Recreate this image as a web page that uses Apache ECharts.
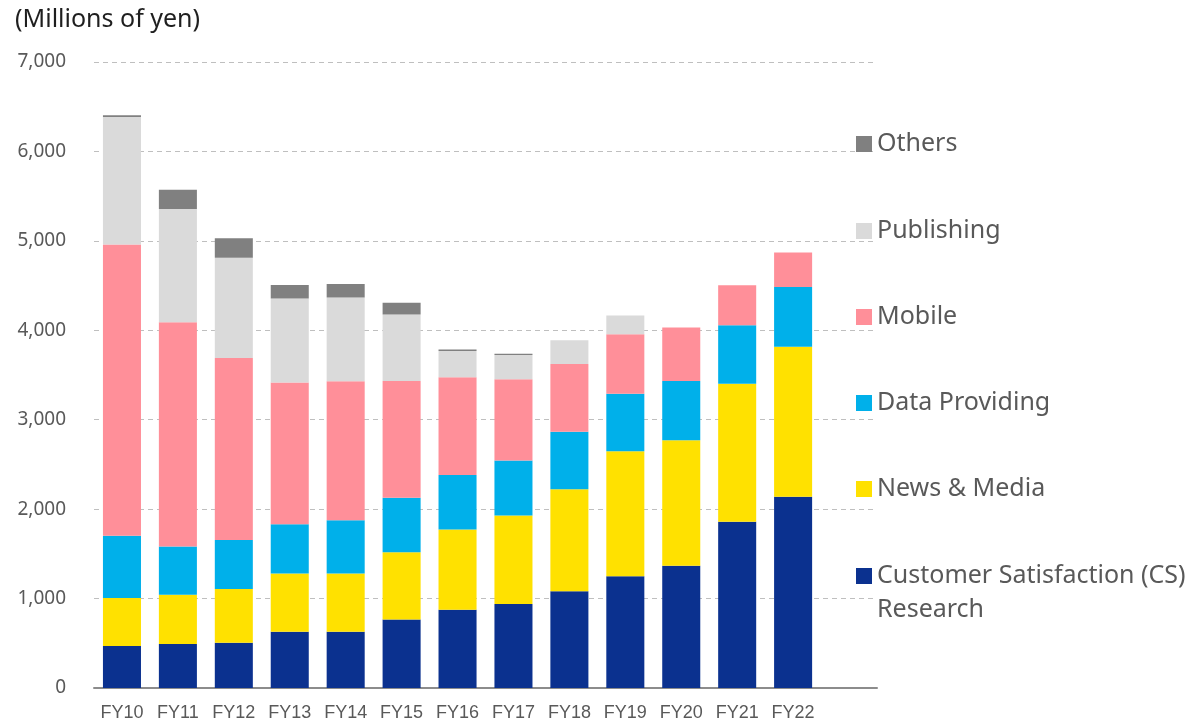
<!DOCTYPE html>
<html>
<head>
<meta charset="utf-8">
<script src="https://cdn.jsdelivr.net/npm/echarts@6/dist/echarts.min.js"></script>
<style>
html,body{margin:0;padding:0;background:#fff;}
#chart{width:1188px;height:725px;}
</style>
</head>
<body>
<div id="chart"></div>
<script>
const categories = ['FY10','FY11','FY12','FY13','FY14','FY15','FY16','FY17','FY18','FY19','FY20','FY21','FY22'];
const csResearch  = [471, 492, 505, 629, 630, 766, 874, 938, 1083, 1250, 1366, 1858, 2138];
const newsMedia   = [535, 552, 603, 650, 650, 751, 897, 990, 1140, 1396, 1403, 1545, 1679];
const dataProv    = [697, 539, 548, 552, 597, 609, 612, 616, 642, 645, 664, 653, 668];
const mobile      = [3256, 2508, 2033, 1584, 1553, 1307, 1091, 908, 758, 664, 597, 448, 384];
const publishing  = [1425, 1266, 1121, 941, 938, 743, 295, 272, 266, 209, 0, 0, 0];
const others      = [20, 214, 218, 150, 149, 131, 15, 15, 0, 0, 0, 0, 0];
const yTicks = [0, 1000, 2000, 3000, 4000, 5000, 6000, 7000];

const FONT = 'Noto Sans';
const seriesDefs = [
  {name: 'Customer Satisfaction (CS) Research', data: csResearch, color: '#0B318F'},
  {name: 'News & Media', data: newsMedia, color: '#FFE100'},
  {name: 'Data Providing', data: dataProv, color: '#00B0EA'},
  {name: 'Mobile', data: mobile, color: '#FF8F99'},
  {name: 'Publishing', data: publishing, color: '#DADADA'},
  {name: 'Others', data: others, color: '#808080'}
];

const legendCenters = {
  'Others': 142, 'Publishing': 229, 'Mobile': 315, 'Data Providing': 401, 'News & Media': 487,
  'Customer Satisfaction (CS) Research': 574
};
const LH = 34;
const legends = seriesDefs.map(s => {
  const multi = s.name.indexOf('Customer') === 0;
  return {
    show: true,
    orient: 'vertical',
    left: 856,
    top: multi ? legendCenters[s.name] - 51 + 2 : legendCenters[s.name] - LH / 2 + 2,
    padding: 0,
    itemWidth: 16,
    itemHeight: 16,
    icon: 'rect',
    selectedMode: false,
    data: [s.name],
    formatter: multi ? '\nCustomer Satisfaction (CS)\nResearch' : '{name}',
    textStyle: {fontFamily: FONT, fontSize: 25, color: '#595959', lineHeight: LH}
  };
});

const chart = echarts.init(document.getElementById('chart'), null, {renderer: 'canvas'});
chart.setOption({
  animation: false,
  backgroundColor: '#fff',
  textStyle: {fontFamily: FONT},
  title: {
    text: '(Millions of yen)', left: 10, top: 2,
    textStyle: {fontFamily: FONT, fontSize: 25, fontWeight: 'normal', color: '#1f1f1f'}
  },
  legend: legends,
  grid: {left: 94, right: 311, top: 62, bottom: 37, containLabel: false},
  xAxis: {
    type: 'category',
    data: categories.concat(['']),
    axisLine: {lineStyle: {color: '#8C8C8C', width: 2}},
    axisTick: {show: false},
    axisLabel: {interval: 0, fontFamily: 'Liberation Sans', fontSize: 18, color: '#595959', margin: 16}
  },
  yAxis: {
    type: 'value',
    min: yTicks[0], max: yTicks[yTicks.length - 1], interval: 1000,
    axisLine: {show: false},
    axisTick: {show: false},
    axisLabel: {fontFamily: FONT, fontSize: 19, color: '#595959', margin: 28,
      formatter: v => v.toLocaleString('en-US')},
    splitLine: {lineStyle: {color: '#BFBFBF', width: 1, type: [5, 4]}}
  },
  series: seriesDefs.map(s => ({
    name: s.name, type: 'bar', stack: 'total', data: s.data,
    barCategoryGap: '32%',
    itemStyle: {color: s.color},
    emphasis: {disabled: true}
  }))
});
</script>
</body>
</html>
